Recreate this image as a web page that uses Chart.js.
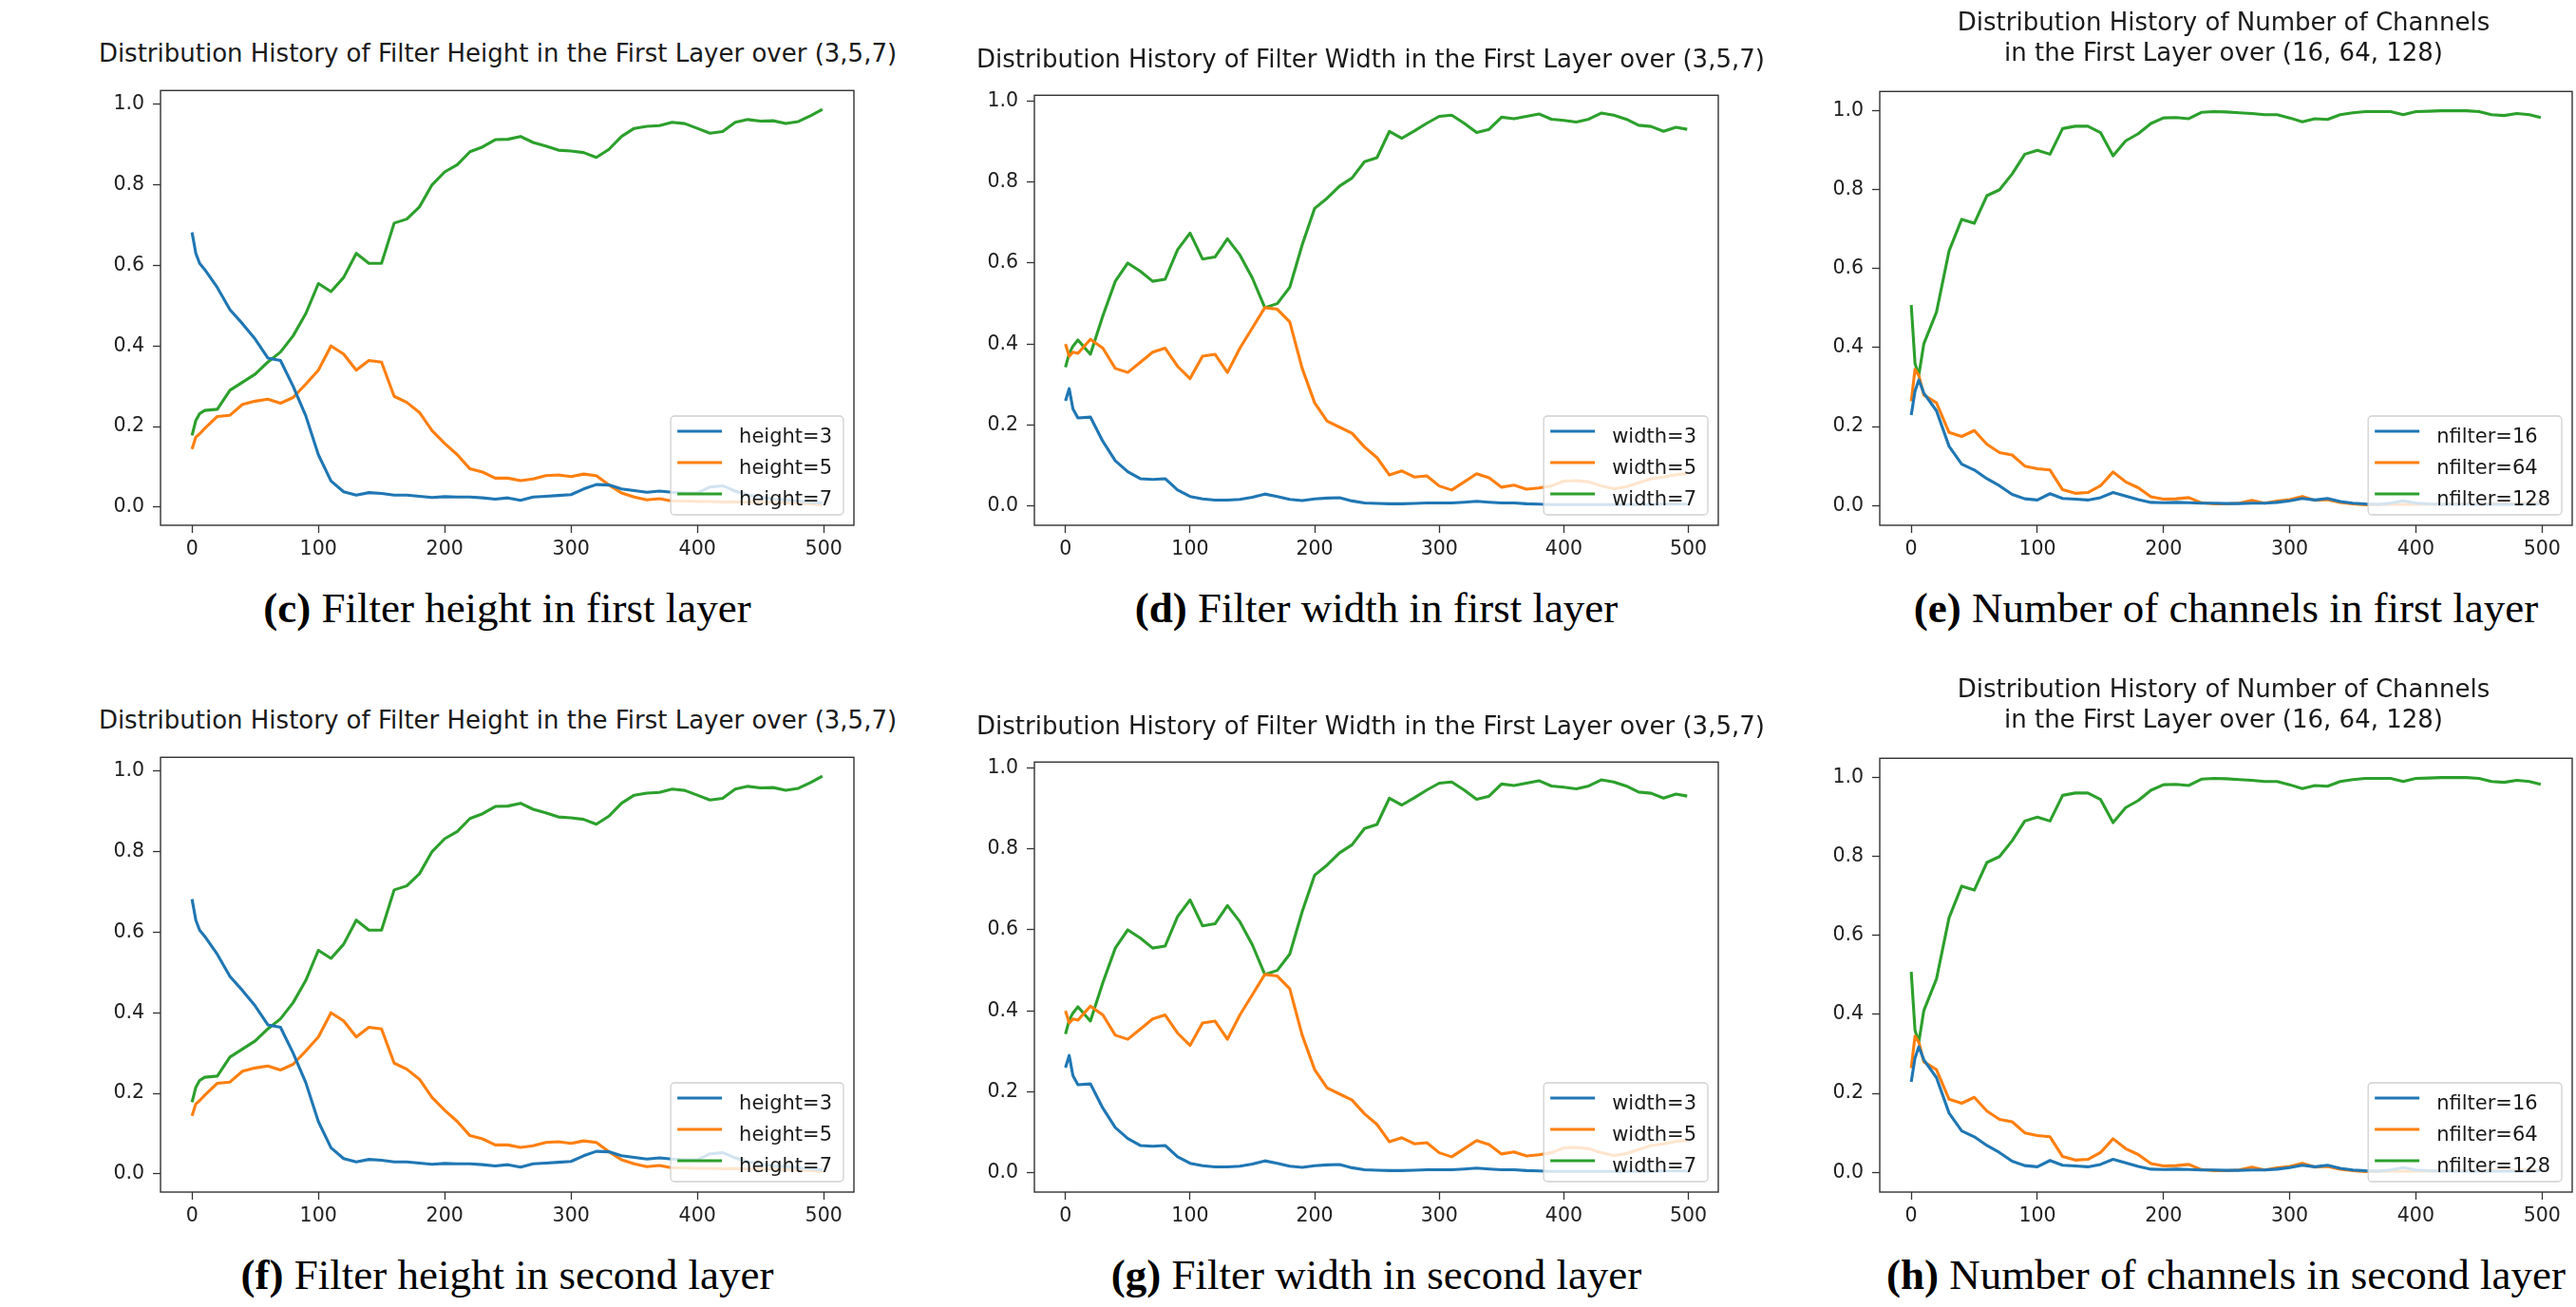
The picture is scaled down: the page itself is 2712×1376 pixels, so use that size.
<!DOCTYPE html>
<html>
<head>
<meta charset="utf-8">
<script src="https://cdn.jsdelivr.net/npm/chart.js@4.4.1/dist/chart.umd.min.js"></script>
<style>
  html, body { margin: 0; padding: 0; background: #fff; }
  body { position: relative; width: 2712px; height: 1376px; overflow: hidden; }
  canvas { position: absolute; }
  .title { position: absolute; width: 1100px; text-align: center; white-space: nowrap;
           font-family: "DejaVu Sans"; font-size: 26px; line-height: 31.7px; color: #1a1a1a; }
  .caption { position: absolute; width: 1000px; text-align: center; white-space: nowrap;
             font-family: "Liberation Serif"; font-size: 45px; line-height: 50px; color: #000; }
</style>
</head>
<body>
<script>
// training step at which each value was read
const steps = [0, 3, 6, 10, 20, 30, 40, 50, 60, 70, 80, 90, 100,
  110, 120, 130, 140, 150, 160, 170, 180, 190, 200,
  210, 220, 230, 240, 250, 260, 270, 280, 290, 300,
  310, 320, 330, 340, 350, 360, 370, 380, 390, 400,
  410, 420, 430, 440, 450, 460, 470, 480, 490, 499];

// filter height, first layer
const heightThree = [0.682, 0.63, 0.605, 0.59, 0.545, 0.49, 0.455, 0.417, 0.37, 0.364, 0.30, 0.227, 0.13,
  0.065, 0.038, 0.03, 0.036, 0.034, 0.03, 0.03, 0.027, 0.024, 0.026,
  0.025, 0.025, 0.023, 0.02, 0.023, 0.017, 0.025, 0.027, 0.029, 0.031,
  0.045, 0.056, 0.055, 0.045, 0.041, 0.037, 0.04, 0.037, 0.035, 0.035,
  0.05, 0.053, 0.04, 0.03, 0.025, 0.02, 0.018, 0.015, 0.012, 0.01];
const heightFive = [0.144, 0.174, 0.182, 0.195, 0.225, 0.228, 0.255, 0.263, 0.268, 0.258, 0.272, 0.305, 0.34,
  0.40, 0.38, 0.34, 0.364, 0.36, 0.275, 0.26, 0.235, 0.19, 0.158,
  0.13, 0.095, 0.087, 0.072, 0.072, 0.066, 0.07, 0.078, 0.08, 0.076,
  0.082, 0.078, 0.055, 0.035, 0.025, 0.018, 0.021, 0.015, 0.015, 0.014,
  0.014, 0.013, 0.013, 0.012, 0.012, 0.012, 0.011, 0.01, 0.008, 0.005];
const heightSeven = [0.178, 0.215, 0.232, 0.24, 0.243, 0.29, 0.31, 0.33, 0.36, 0.385, 0.425, 0.48, 0.555,
  0.535, 0.57, 0.63, 0.605, 0.605, 0.705, 0.715, 0.745, 0.80, 0.832,
  0.85, 0.882, 0.894, 0.912, 0.913, 0.92, 0.905, 0.896, 0.886, 0.884,
  0.88, 0.868, 0.888, 0.92, 0.94, 0.945, 0.947, 0.955, 0.952, 0.94,
  0.928, 0.932, 0.955, 0.962, 0.958, 0.959, 0.952, 0.957, 0.972, 0.987];

// filter width, first layer
const widthThree = [0.26, 0.29, 0.24, 0.218, 0.22, 0.16, 0.112, 0.085, 0.068, 0.066, 0.068, 0.04, 0.024,
  0.018, 0.015, 0.015, 0.017, 0.022, 0.03, 0.024, 0.017, 0.014, 0.018,
  0.02, 0.021, 0.013, 0.008, 0.007, 0.006, 0.006, 0.007, 0.008, 0.008,
  0.008, 0.01, 0.012, 0.01, 0.008, 0.008, 0.006, 0.005, 0.004, 0.004,
  0.004, 0.004, 0.004, 0.004, 0.004, 0.004, 0.004, 0.005, 0.005, 0.005];
const widthFive = [0.40, 0.37, 0.38, 0.377, 0.412, 0.39, 0.34, 0.33, 0.355, 0.38, 0.39, 0.345, 0.315,
  0.37, 0.375, 0.33, 0.39, 0.44, 0.49, 0.486, 0.455, 0.34, 0.255,
  0.21, 0.195, 0.18, 0.146, 0.12, 0.077, 0.087, 0.072, 0.075, 0.05,
  0.04, 0.06, 0.08, 0.07, 0.047, 0.052, 0.042, 0.045, 0.05, 0.062,
  0.063, 0.06, 0.05, 0.043, 0.048, 0.058, 0.068, 0.072, 0.078, 0.08];
const widthSeven = [0.343, 0.377, 0.395, 0.41, 0.375, 0.47, 0.555, 0.60, 0.58, 0.555, 0.56, 0.633, 0.674,
  0.61, 0.615, 0.66, 0.62, 0.563, 0.49, 0.50, 0.54, 0.645, 0.735,
  0.76, 0.79, 0.81, 0.85, 0.86, 0.925, 0.908, 0.926, 0.945, 0.962,
  0.965, 0.945, 0.922, 0.93, 0.96, 0.956, 0.962, 0.968, 0.955, 0.952,
  0.948, 0.955, 0.97, 0.965, 0.955, 0.94, 0.937, 0.925, 0.935, 0.93];

// number of channels, first layer
const nfilter16 = [0.229, 0.29, 0.318, 0.285, 0.24, 0.15, 0.105, 0.09, 0.068, 0.05, 0.028, 0.017, 0.014,
  0.03, 0.018, 0.016, 0.014, 0.02, 0.033, 0.024, 0.015, 0.008, 0.007,
  0.008, 0.007, 0.006, 0.006, 0.005, 0.005, 0.006, 0.006, 0.008, 0.012,
  0.018, 0.014, 0.018, 0.01, 0.006, 0.004, 0.003, 0.006, 0.012, 0.006,
  0.004, 0.003, 0.003, 0.003, 0.003, 0.003, 0.003, 0.003, 0.003, 0.004];
const nfilter64 = [0.264, 0.345, 0.33, 0.28, 0.26, 0.185, 0.175, 0.19, 0.155, 0.134, 0.128, 0.10, 0.093,
  0.09, 0.04, 0.031, 0.033, 0.05, 0.085, 0.06, 0.045, 0.022, 0.016,
  0.017, 0.02, 0.007, 0.004, 0.004, 0.006, 0.013, 0.006, 0.011, 0.015,
  0.023, 0.013, 0.015, 0.008, 0.004, 0.002, 0.002, 0.003, 0.003, 0.003,
  0.003, 0.003, 0.004, 0.004, 0.004, 0.005, 0.005, 0.005, 0.006, 0.006];
const nfilter128 = [0.508, 0.36, 0.33, 0.41, 0.49, 0.645, 0.725, 0.715, 0.785, 0.80, 0.84, 0.89, 0.90,
  0.89, 0.955, 0.961, 0.961, 0.945, 0.886, 0.924, 0.942, 0.968, 0.982,
  0.983, 0.98, 0.996, 0.998, 0.997, 0.995, 0.993, 0.99, 0.99, 0.982,
  0.972, 0.98, 0.978, 0.99, 0.995, 0.998, 0.998, 0.998, 0.99, 0.998,
  0.999, 1.0, 1.0, 1.0, 0.998, 0.99, 0.988, 0.993, 0.99, 0.983];

const xTicks = [0, 100, 200, 300, 400, 500];
const yTicks = [0, 0.2, 0.4, 0.6, 0.8, 1.0];

const colors = ["#1f77b4", "#ff7f0e", "#2ca02c"];
const tickFont = { family: "DejaVu Sans", size: 20.5 };

// axes frames measured on the first row; second row sits 702px lower
const rowShift = 702;
const panels = [
  { l: 169, t: 78, r: 899, b: 553, yMin: -0.045, yMax: 1.034, titleX: 524, titleBase: 66,
    title: ["Distribution History of Filter Height in the First Layer over (3,5,7)"],
    names: ["height=3", "height=5", "height=7"], series: [heightThree, heightFive, heightSeven],
    tag: ["c", "f"], caption: ["Filter height in first layer", "Filter height in second layer"] },
  { l: 1089, t: 83, r: 1809, b: 553, yMin: -0.047, yMax: 1.014, titleX: 1443, titleBase: 71.7,
    title: ["Distribution History of Filter Width in the First Layer over (3,5,7)"],
    names: ["width=3", "width=5", "width=7"], series: [widthThree, widthFive, widthSeven],
    tag: ["d", "g"], caption: ["Filter width in first layer", "Filter width in second layer"] },
  { l: 1979, t: 79, r: 2708, b: 552.5, yMin: -0.05, yMax: 1.049, titleX: 2341, titleBase: 33.3,
    title: ["Distribution History of Number of Channels", "in the First Layer over (16, 64, 128)"],
    names: ["nfilter=16", "nfilter=64", "nfilter=128"], series: [nfilter16, nfilter64, nfilter128],
    tag: ["e", "h"], caption: ["Number of channels in first layer", "Number of channels in second layer"] }
];

// frame + legend box drawn inside the axes, like matplotlib's loc="lower right"
const frameAndLegend = {
  id: "frameAndLegend",
  afterDatasetsDraw(chart) {
    const { ctx, chartArea: a } = chart;
    ctx.save();
    ctx.strokeStyle = "#333";
    ctx.lineWidth = 1.4;
    ctx.strokeRect(a.left, a.top, a.right - a.left, a.bottom - a.top);

    ctx.font = '21px "DejaVu Sans"';
    const sets = chart.data.datasets;
    const textW = Math.max(...sets.map(d => ctx.measureText(d.label).width));
    const w = 7 + 47 + 18 + textW + 12, h = 104;
    const x = a.right - 11 - w, y = a.bottom - 11 - h;
    ctx.beginPath();
    ctx.roundRect(x, y, w, h, 4);
    ctx.fillStyle = "rgba(255,255,255,0.8)";
    ctx.fill();
    ctx.strokeStyle = "#d0d0d0";
    ctx.lineWidth = 1.3;
    ctx.stroke();

    sets.forEach((d, i) => {
      const ly = y + 16 + i * 33;
      ctx.beginPath();
      ctx.moveTo(x + 7, ly);
      ctx.lineTo(x + 54, ly);
      ctx.strokeStyle = d.borderColor;
      ctx.lineWidth = 3.1;
      ctx.stroke();
      ctx.fillStyle = "#1a1a1a";
      ctx.textBaseline = "alphabetic";
      ctx.fillText(d.label, x + 72, ly + 11.5);
    });
    ctx.restore();
  }
};

function addTitle(p, shift) {
  const fs = 26, lh = 31.7;
  const div = document.createElement("div");
  div.className = "title";
  div.innerHTML = p.title.join("<br>");
  div.style.left = (p.titleX - 550) + "px";
  div.style.top = (p.titleBase + shift - ((lh - 1.164 * fs) / 2 + 0.928 * fs)) + "px";
  document.body.appendChild(div);
}

function addCaption(p, row) {
  const fs = 45, lh = 50, shift = row * rowShift;
  const div = document.createElement("div");
  div.className = "caption";
  div.innerHTML = "<b>(" + p.tag[row] + ")</b> " + p.caption[row];
  div.style.left = ((p.l + p.r) / 2 - 500) + "px";
  div.style.top = (655 + shift - ((lh - 1.107 * fs) / 2 + 0.891 * fs)) + "px";
  document.body.appendChild(div);
}

function addChart(p, row) {
  const shift = row * rowShift;
  const yW = 90, xH = 50, pad = 4;
  const top = p.t + shift, bottom = p.b + shift;
  const canvas = document.createElement("canvas");
  canvas.width = Math.round(yW + (p.r - p.l) + pad);
  canvas.height = Math.round(pad + (bottom - top) + xH);
  canvas.style.left = (p.l - yW) + "px";
  canvas.style.top = (top - pad) + "px";
  document.body.appendChild(canvas);

  new Chart(canvas.getContext("2d"), {
    type: "line",
    data: {
      datasets: p.series.map((arr, i) => ({
        label: p.names[i],
        data: steps.map((s, k) => ({ x: s, y: arr[k] })),
        borderColor: colors[i],
        borderWidth: 3.1,
        borderJoinStyle: "round",
        pointRadius: 0,
        tension: 0,
        fill: false
      }))
    },
    options: {
      responsive: false,
      animation: false,
      devicePixelRatio: 1,
      layout: { padding: { top: pad, right: pad, left: 0, bottom: 0 } },
      plugins: { legend: { display: false }, tooltip: { enabled: false } },
      scales: {
        x: {
          type: "linear",
          min: -24.95,
          max: 523.95,
          afterBuildTicks: s => { s.ticks = xTicks.map(v => ({ value: v })); },
          afterFit: s => { s.height = xH; },
          border: { display: false },
          grid: { drawOnChartArea: false, drawTicks: true, tickLength: 8, tickColor: "#333", tickWidth: 1.3 },
          ticks: { font: tickFont, color: "#222", padding: 5, maxRotation: 0, autoSkip: false,
                   callback: v => String(v) }
        },
        y: {
          min: p.yMin,
          max: p.yMax,
          afterBuildTicks: s => { s.ticks = yTicks.map(v => ({ value: v })); },
          afterFit: s => { s.width = yW; },
          border: { display: false },
          grid: { drawOnChartArea: false, drawTicks: true, tickLength: 8, tickColor: "#333", tickWidth: 1.3 },
          ticks: { font: tickFont, color: "#222", padding: 9, callback: v => v.toFixed(1) }
        }
      }
    },
    plugins: [frameAndLegend]
  });
}

panels.forEach(p => {
  [0, 1].forEach(row => {
    addTitle(p, row * rowShift);
    addChart(p, row);
    addCaption(p, row);
  });
});
</script>
</body>
</html>
